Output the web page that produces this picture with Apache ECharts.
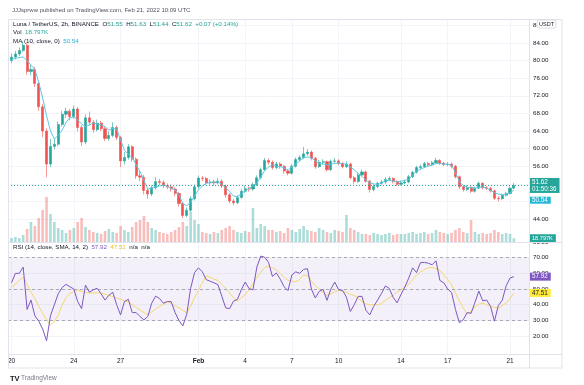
<!DOCTYPE html>
<html><head><meta charset="utf-8">
<script src="https://cdn.jsdelivr.net/npm/echarts@6/dist/echarts.min.js"></script>
<style>html,body{margin:0;padding:0;background:#fff}#c{width:584px;height:385px}</style>
</head><body><div id="c"></div>
<script>
// Each stored candle spans 6 hours, first one starting 2022-01-20 00:00 UTC
const candleHours = 6;
const open = [80.0, 80.8, 81.5, 82.3, 83.5, 77.5, 78.0, 74.8, 69.5, 64.0,
56.5, 60.5, 61.0, 65.5, 67.8, 68.5, 67.3, 69.0, 64.8, 61.5,
67.0, 66.0, 64.3, 65.8, 64.5, 62.3, 63.0, 64.8, 62.5, 57.2,
58.0, 60.4, 57.6, 53.8, 53.5, 50.5, 49.7, 51.1, 52.5, 52.3,
51.6, 51.3, 50.8, 49.8, 47.5, 44.8, 46.0, 48.6, 51.3, 53.3,
53.2, 52.2, 52.4, 52.2, 52.6, 51.5, 49.5, 48.1, 47.7, 48.9,
50.3, 50.9, 50.8, 51.8, 53.4, 55.2, 57.3, 56.9, 55.7, 56.5,
56.0, 54.9, 54.4, 56.0, 57.5, 58.0, 58.8, 59.2, 57.8, 55.9,
56.9, 57.0, 55.2, 57.1, 57.2, 56.6, 55.9, 56.5, 53.4, 52.5,
54.0, 54.7, 52.6, 50.7, 51.4, 52.1, 52.4, 53.0, 53.2, 52.5,
51.9, 52.2, 52.4, 53.6, 54.6, 55.7, 55.9, 56.6, 56.3, 56.8,
57.3, 56.7, 56.4, 56.5, 56.0, 53.6, 51.3, 50.7, 51.2, 50.3,
51.0, 52.1, 51.1, 51.0, 50.4, 48.7, 48.6, 49.4, 49.8, 51.0];
const close = [80.8, 81.5, 82.3, 83.5, 77.5, 78.0, 74.8, 69.5, 64.0, 56.5,
60.5, 61.0, 65.5, 67.8, 68.5, 67.3, 69.0, 64.8, 61.5, 67.0,
66.0, 64.3, 65.8, 64.5, 62.3, 63.0, 64.8, 62.5, 57.2, 58.0,
60.4, 57.6, 53.8, 53.5, 50.5, 49.7, 51.1, 52.5, 52.3, 51.6,
51.3, 50.8, 49.8, 47.5, 44.8, 46.0, 48.6, 51.3, 53.3, 53.2,
52.2, 52.4, 52.2, 52.6, 51.5, 49.5, 48.1, 47.7, 48.9, 50.3,
50.9, 50.8, 51.8, 53.4, 55.2, 57.3, 56.9, 55.7, 56.5, 56.0,
54.9, 54.4, 56.0, 57.5, 58.0, 58.8, 59.2, 57.8, 55.9, 56.9,
57.0, 55.2, 57.1, 57.2, 56.6, 55.9, 56.5, 53.4, 52.5, 54.0,
54.7, 52.6, 50.7, 51.4, 52.1, 52.4, 53.0, 53.2, 52.5, 51.9,
52.2, 52.4, 53.6, 54.6, 55.7, 55.9, 56.6, 56.3, 56.8, 57.3,
56.7, 56.4, 56.5, 56.0, 53.6, 51.3, 50.7, 51.2, 50.3, 51.0,
52.1, 51.1, 51.0, 50.4, 48.7, 48.6, 49.4, 49.8, 51.0, 51.62];
const high = [81.6, 82.2, 83.0, 84.4, 83.9, 79.2, 78.6, 75.3, 70.1, 64.6,
62.2, 62.3, 66.2, 68.6, 69.3, 69.0, 69.8, 69.4, 65.3, 67.8,
68.4, 66.5, 66.6, 66.3, 64.9, 63.9, 66.0, 65.2, 62.9, 59.2,
61.0, 60.8, 58.0, 54.9, 54.0, 50.9, 51.7, 53.5, 53.1, 52.8,
52.1, 51.8, 51.2, 50.2, 47.9, 46.6, 49.2, 51.8, 53.9, 53.8,
53.6, 53.0, 52.9, 53.3, 53.0, 51.8, 49.9, 48.6, 49.4, 50.8,
51.6, 51.4, 52.3, 53.9, 55.7, 57.9, 57.8, 57.3, 57.0, 56.9,
56.3, 55.3, 56.5, 58.0, 58.5, 60.4, 59.9, 59.6, 58.1, 57.4,
57.6, 57.3, 57.5, 57.8, 57.6, 57.0, 57.1, 56.8, 53.8, 54.5,
55.2, 55.0, 52.9, 51.9, 52.5, 52.9, 53.5, 53.7, 53.5, 52.8,
52.7, 52.9, 54.0, 55.0, 56.1, 56.4, 57.0, 57.0, 57.2, 57.9,
57.6, 57.0, 56.9, 56.8, 56.3, 53.9, 51.6, 51.7, 51.5, 51.4,
52.5, 52.3, 51.5, 51.3, 50.7, 49.2, 49.8, 50.2, 51.4, 52.2];
const low = [79.4, 80.3, 81.0, 81.9, 76.8, 76.6, 74.0, 68.6, 62.6, 53.5,
55.8, 59.8, 60.6, 65.0, 67.0, 66.4, 66.8, 63.9, 60.6, 61.0,
65.2, 63.6, 63.9, 64.0, 61.7, 61.8, 62.6, 61.9, 55.8, 56.4,
57.5, 57.0, 53.1, 52.6, 49.6, 48.6, 49.2, 50.7, 51.7, 51.0,
50.8, 50.2, 49.2, 46.8, 44.2, 44.4, 45.6, 48.2, 50.9, 52.6,
51.7, 51.8, 51.6, 51.9, 51.0, 48.9, 47.6, 47.2, 47.4, 48.6,
49.9, 50.2, 50.4, 51.5, 53.0, 54.9, 56.3, 55.2, 55.3, 55.4,
54.3, 53.9, 54.1, 55.7, 57.1, 57.6, 58.4, 57.3, 55.4, 55.6,
56.4, 54.8, 54.9, 56.7, 56.2, 55.5, 55.6, 53.0, 52.0, 52.2,
53.7, 52.2, 50.0, 50.3, 51.0, 51.8, 52.0, 52.7, 52.1, 51.5,
51.6, 51.9, 52.1, 53.3, 54.3, 55.3, 55.6, 55.9, 56.0, 56.5,
56.3, 56.0, 56.0, 55.5, 53.2, 50.8, 50.2, 50.4, 49.9, 50.0,
50.8, 50.7, 50.6, 50.0, 48.3, 48.0, 48.3, 49.1, 49.6, 50.8];
// volume in thousands
const volume = [20, 25, 20, 35, 65, 100, 80, 120, 160, 225,
140, 100, 70, 60, 45, 60, 70, 100, 120, 75,
60, 50, 45, 40, 55, 65, 50, 45, 80, 60,
50, 75, 100, 110, 130, 100, 70, 60, 50, 45,
40, 50, 60, 75, 100, 80, 150, 110, 90, 50,
45, 40, 50, 45, 60, 70, 80, 60, 50, 45,
55, 50, 170, 70, 90, 80, 60, 60, 50, 55,
45, 70, 60, 50, 65, 80, 60, 55, 50, 70,
60, 50, 45, 60, 55, 50, 135, 70, 60, 50,
40, 40, 35, 45, 40, 35, 40, 45, 35, 40,
40, 40, 45, 50, 40, 45, 50, 40, 45, 60,
50, 45, 40, 45, 60, 70, 50, 45, 110, 50,
40, 45, 40, 45, 60, 50, 40, 45, 40, 18.797];
const ma10 = [80.3, 80.5, 80.7, 80.8, 80.0, 79.0, 78.0, 75.0, 71.5, 67.5,
64.0, 62.2, 63.0, 64.2, 66.0, 67.0, 67.2, 66.5, 65.6, 65.0,
65.4, 65.8, 65.6, 65.4, 65.0, 64.2, 64.6, 64.5, 62.0, 59.6,
58.7, 58.0, 56.3, 54.8, 52.8, 50.8, 51.0, 51.3, 51.5, 51.7,
51.4, 51.0, 50.6, 49.5, 47.5, 47.0, 47.8, 49.2, 50.6, 51.5,
52.1, 52.3, 52.4, 52.4, 51.9, 51.0, 50.3, 49.2, 49.1, 49.7,
50.5, 51.0, 51.5, 52.2, 53.5, 55.0, 55.8, 56.3, 56.0, 55.9,
55.6, 55.1, 55.8, 56.5, 57.2, 57.9, 58.1, 57.9, 57.2, 56.6,
56.5, 56.3, 56.5, 56.6, 56.7, 56.6, 56.4, 55.8, 55.2, 54.4,
53.7, 52.8, 52.2, 52.0, 51.8, 52.2, 52.7, 52.8, 52.6, 52.4,
52.6, 52.8, 53.0, 54.0, 54.9, 55.3, 55.7, 56.0, 56.3, 56.6,
56.6, 56.5, 56.4, 56.3, 54.5, 52.5, 51.6, 51.2, 51.1, 51.0,
51.2, 51.3, 51.0, 50.5, 50.0, 49.7, 49.5, 49.6, 50.0, 50.54];
const rsi = [54, 60, 60, 64, 37, 43, 33, 29.5, 24.5, 17,
33, 40, 47, 51, 53, 51.5, 50, 42, 37.5, 52.5,
48, 49.5, 50.5, 47, 43, 46, 48, 40, 33.5, 42,
43.5, 35, 35, 32.5, 30.3, 32.5, 41, 45.5, 44, 41,
42, 42, 35, 30, 26.5, 34, 50.5, 60.5, 63.5, 61,
56, 55, 54, 52.8, 45.5, 38, 37.5, 42.3, 43.3, 49.5,
54.5, 50.3, 49.5, 64, 71, 70.3, 67, 58, 60.3, 56.3,
51.5, 49, 59, 61, 60, 62.5, 63, 50, 44.3, 48.5,
49.8, 42.8, 50, 54.5, 49.5, 49.2, 44.8, 35.7, 40, 45.3,
45.3, 36.5, 33.5, 39, 43, 47.2, 52, 50.4, 44.7, 41.2,
46.5, 51.3, 57, 63.5, 60.5, 66.8, 67, 66.5, 65.5, 68,
55.5, 54, 50, 47.8, 37, 28.5, 30.5, 35, 34.5, 41.5,
48.7, 42.5, 43, 39, 29.5, 39.5, 42.8, 52, 57, 57.92];
const rsiSma = [51, 53, 55.5, 57.5, 53, 48, 44, 39, 34.5, 30.5,
27, 29.5, 33.3, 40, 44.5, 47.2, 48.5, 49.4, 48.6, 47.8,
47.5, 47.5, 47.5, 47.5, 46.8, 46, 45.1, 44.3, 43.5, 42.6,
41.7, 40, 38.2, 36.7, 35, 33.6, 35.5, 37.3, 38.9, 40.4,
42, 40.7, 39.2, 38, 36.3, 34.9, 39, 44.5, 49, 54,
58.5, 57.5, 56.3, 55.5, 53, 50.5, 47.5, 44.5, 42.2, 44.5,
46.5, 49.5, 53.5, 57.4, 60.5, 63.8, 64.5, 63.5, 62.3, 60,
57.5, 55.6, 55, 54.6, 56, 59, 58.5, 55, 52.3, 50,
47.8, 46, 47, 48.2, 49.2, 48.7, 47.8, 46.7, 45.8, 44,
42.2, 40.5, 40, 40, 40, 40.8, 42.8, 44.5, 46, 48,
49.6, 51.3, 53.2, 56, 59, 61, 62.3, 63.5, 63.8, 63,
62, 59, 56, 52.8, 47.5, 42.3, 38, 34, 35.8, 38.5,
40.4, 41, 40, 39, 38.3, 38, 39.5, 41, 44, 47.51];
// x-axis ticks: days after 2022-01-20 00:00 UTC
const xTickDays = [0, 4, 7, 12, 15, 18, 21, 25, 28, 32];
const xTickLabels = ['20', '24', '27', 'Feb', '4', '7', '10', '14', '17', '21'];
const priceTicks = [44, 48, 52, 56, 60, 64, 68, 72, 76, 80, 84, 88];
const rsiTicks = [20, 30, 40, 50, 60, 70, 80];
const rsiLevels = [70, 50, 30];
const countdown = '01:50:36';
const legendOHLC = ['51.55', '51.63', '51.44', '51.62', '+0.07 (+0.14%)'];

const FONT = 'Liberation Sans';
const UP = '#26a69a', DOWN = '#ef5350';
const X_MIN = -0.225, X_MAX = 33.22;
const NOLINE = { color: 'rgba(0,0,0,0)', width: 0 };
const day = i => i * candleHours / 24;

function xAx(gi, showLabels) {
  return {
    type: 'value', gridIndex: gi, min: X_MIN, max: X_MAX,
    axisLine: { show: false },
    axisTick: { show: false, customValues: xTickDays },
    splitLine: { show: gi !== 1, lineStyle: { color: '#f2f4f9', width: 1 } },
    axisLabel: {
      show: showLabels, customValues: xTickDays, margin: 4,
      fontSize: 6.5, color: '#131722', fontFamily: FONT,
      formatter: v => { const t = xTickLabels[xTickDays.indexOf(Math.round(v))]; return t === 'Feb' ? '{b|Feb}' : t; },
      rich: { b: { fontWeight: 'bold', fontSize: 6.5, color: '#131722', fontFamily: FONT } }
    }
  };
}
function tag(bg, fg, fmt, fs) {
  return { show: true, position: 'end', distance: 0, formatter: fmt, backgroundColor: bg, color: fg,
    fontSize: fs || 6.3, fontFamily: FONT, padding: [1, 3, 0, 3], lineHeight: 7 };
}

const candleData = close.map((c, i) => [day(i), open[i], c, low[i], high[i]]);
const volData = volume.map((v, i) => ({ value: [day(i), v],
  itemStyle: { color: close[i] >= open[i] ? 'rgba(38,166,154,0.38)' : 'rgba(239,83,80,0.38)' } }));

const rs = (fill, extra) => Object.assign({ fill, fontSize: 6.2, fontFamily: FONT }, extra || {});
const gtext = (x, y, text, rich, extra) => ({ type: 'text', x, y, z: 100,
  style: Object.assign({ text, rich, fontSize: 6.2, fontFamily: FONT, fill: '#131722', verticalAlign: 'middle' }, extra || {}) });
const gline = (x1, y1, x2, y2) => ({ type: 'line', z: 50, shape: { x1, y1, x2, y2 }, style: { stroke: '#e0e3eb', lineWidth: 1 } });

const option = {
  animation: false,
  backgroundColor: '#ffffff',
  grid: [
    { left: 8, top: 19, width: 521, height: 223, show: false },
    { left: 8, top: 182, width: 521, height: 60, show: false },
    { left: 8, top: 242, width: 521, height: 112, show: false }
  ],
  xAxis: [xAx(0, false), xAx(1, false), xAx(2, true)],
  yAxis: [
    { type: 'value', gridIndex: 0, position: 'right', min: 38.77, max: 89.45,
      axisLine: { show: false }, axisTick: { show: false, customValues: priceTicks },
      axisLabel: { customValues: priceTicks, formatter: v => v.toFixed(2), fontSize: 6.2, color: '#131722', fontFamily: FONT, margin: 4 },
      splitLine: { lineStyle: { color: '#f2f4f9' } } },
    { type: 'value', gridIndex: 1, min: 0, max: 300, show: false, splitLine: { show: false } },
    { type: 'value', gridIndex: 2, position: 'right', min: 8.6, max: 80,
      axisLine: { show: false }, axisTick: { show: false, customValues: rsiTicks },
      axisLabel: { customValues: rsiTicks, formatter: v => v.toFixed(2), fontSize: 6.2, color: '#131722', fontFamily: FONT, margin: 4 },
      splitLine: { lineStyle: { color: '#f2f4f9' } } }
  ],
  series: [
    { type: 'bar', xAxisIndex: 1, yAxisIndex: 1, data: volData, barWidth: 2.6, z: 1,
      markLine: { silent: true, symbol: ['none', 'none'], precision: 3,
        data: [{ yAxis: volume[volume.length - 1], lineStyle: NOLINE,
          label: tag(UP, '#fff', p => p.value.toFixed(3) + 'K', 5.6) }] } },
    { type: 'candlestick', xAxisIndex: 0, yAxisIndex: 0, data: candleData, z: 3,
      dimensions: ['t', 'open', 'close', 'low', 'high'],
      encode: { x: 't', y: ['open', 'close', 'low', 'high'] },
      barWidth: 2.6,
      itemStyle: { color: UP, color0: DOWN, borderColor: UP, borderColor0: DOWN, borderWidth: 0.6 },
      markLine: { silent: true, symbol: ['none', 'none'],
        data: [{ yAxis: close[close.length - 1] }],
        lineStyle: { color: UP, type: [1, 2], width: 1 },
        label: tag(UP, '#fff', p => p.value.toFixed(2) + '\n' + countdown) } },
    { type: 'line', xAxisIndex: 0, yAxisIndex: 0, z: 4, showSymbol: false, symbol: 'none',
      data: ma10.map((v, i) => [day(i), v]), lineStyle: { color: '#5cc8e4', width: 1 },
      markLine: { silent: true, symbol: ['none', 'none'],
        data: [{ yAxis: ma10[ma10.length - 1] }], lineStyle: NOLINE,
        label: { show: true, position: 'end', distance: 0,
          formatter: p => '{g| }\n{v|' + p.value.toFixed(2) + '}',
          rich: { g: { height: 20, fontSize: 6 },
            v: { backgroundColor: '#22b8d6', color: '#fff', fontSize: 6.3, fontFamily: FONT, padding: [1, 3, 0, 3], lineHeight: 7.5 } } } } },
    { type: 'line', xAxisIndex: 2, yAxisIndex: 2, z: 4, showSymbol: false, symbol: 'none',
      data: rsiSma.map((v, i) => [day(i), v]), lineStyle: { color: '#f5d76e', width: 1 },
      markLine: { silent: true, symbol: ['none', 'none'],
        data: [{ yAxis: rsiSma[rsiSma.length - 1] }], lineStyle: NOLINE,
        label: tag('#ffeb3b', '#131722', p => p.value.toFixed(2)) } },
    { type: 'line', xAxisIndex: 2, yAxisIndex: 2, z: 5, showSymbol: false, symbol: 'none',
      data: rsi.map((v, i) => [day(i), v]), lineStyle: { color: '#7e57c2', width: 1 },
      markArea: { silent: true, itemStyle: { color: 'rgba(126,87,194,0.09)' }, data: [[{ yAxis: 30 }, { yAxis: 70 }]] },
      markLine: { silent: true, symbol: ['none', 'none'],
        data: rsiLevels.map(v => ({ yAxis: v, lineStyle: { color: '#9598a1', type: [3, 3], width: 0.8 }, label: { show: false } }))
          .concat([{ yAxis: rsi[rsi.length - 1], lineStyle: NOLINE, label: tag('#7e57c2', '#fff', p => p.value.toFixed(2)) }]) } }
  ],
  graphic: [
    { type: 'rect', z: 50, shape: { x: 8.5, y: 19.5, width: 553.5, height: 348.5 }, style: { fill: 'none', stroke: '#e0e3eb', lineWidth: 1 } },
    gline(529.5, 19, 529.5, 368), gline(8, 242.5, 562, 242.5), gline(8, 354.5, 562, 354.5),
    gtext(12, 10.5, 'JJJsprww published on TradingView.com, Feb 21, 2022 10:09 UTC', null, { fill: '#50535e', fontSize: 6 }),
    gtext(13, 24.5, '{t|Luna / TetherUS, 2h, BINANCE}  {t|O}{v|' + legendOHLC[0] + '}  {t|H}{v|' + legendOHLC[1] + '}  {t|L}{v|' + legendOHLC[2] + '}  {t|C}{v|' + legendOHLC[3] + '}  {v|' + legendOHLC[4] + '}',
      { t: rs('#131722'), v: rs(UP) }),
    gtext(13, 32.5, '{t|Vol}  {v|' + volume[volume.length - 1].toFixed(3) + 'K}', { t: rs('#131722'), v: rs(UP) }),
    gtext(13, 41, '{t|MA (10, close, 0)}  {c|' + ma10[ma10.length - 1].toFixed(2) + '}', { t: rs('#131722'), c: rs('#22b8d6') }),
    gtext(13, 247, '{t|RSI (14, close, SMA, 14, 2)}  {p|' + rsi[rsi.length - 1].toFixed(2) + '}  {y|' + rsiSma[rsiSma.length - 1].toFixed(2) + '}  {t|n/a}  {t|n/a}',
      { t: rs('#131722'), p: rs('#7e57c2'), y: rs('#e6c229') }),
    { type: 'rect', z: 100, shape: { x: 537, y: 20, width: 19, height: 8, r: 2 }, style: { fill: '#fff', stroke: '#d1d4dc', lineWidth: 0.8 } },
    gtext(546.5, 24.2, 'USDT', null, { align: 'center', fontSize: 5.5 }),
    gtext(10, 378.5, 'TV', null, { fontSize: 7.5, fontWeight: 'bold' }),
    gtext(21, 378.5, 'TradingView', null, { fontSize: 6.5, fill: '#787b86' })
  ]
};
const chart = echarts.init(document.getElementById('c'), null, { renderer: 'canvas' });
chart.setOption(option);
</script>
</body></html>
